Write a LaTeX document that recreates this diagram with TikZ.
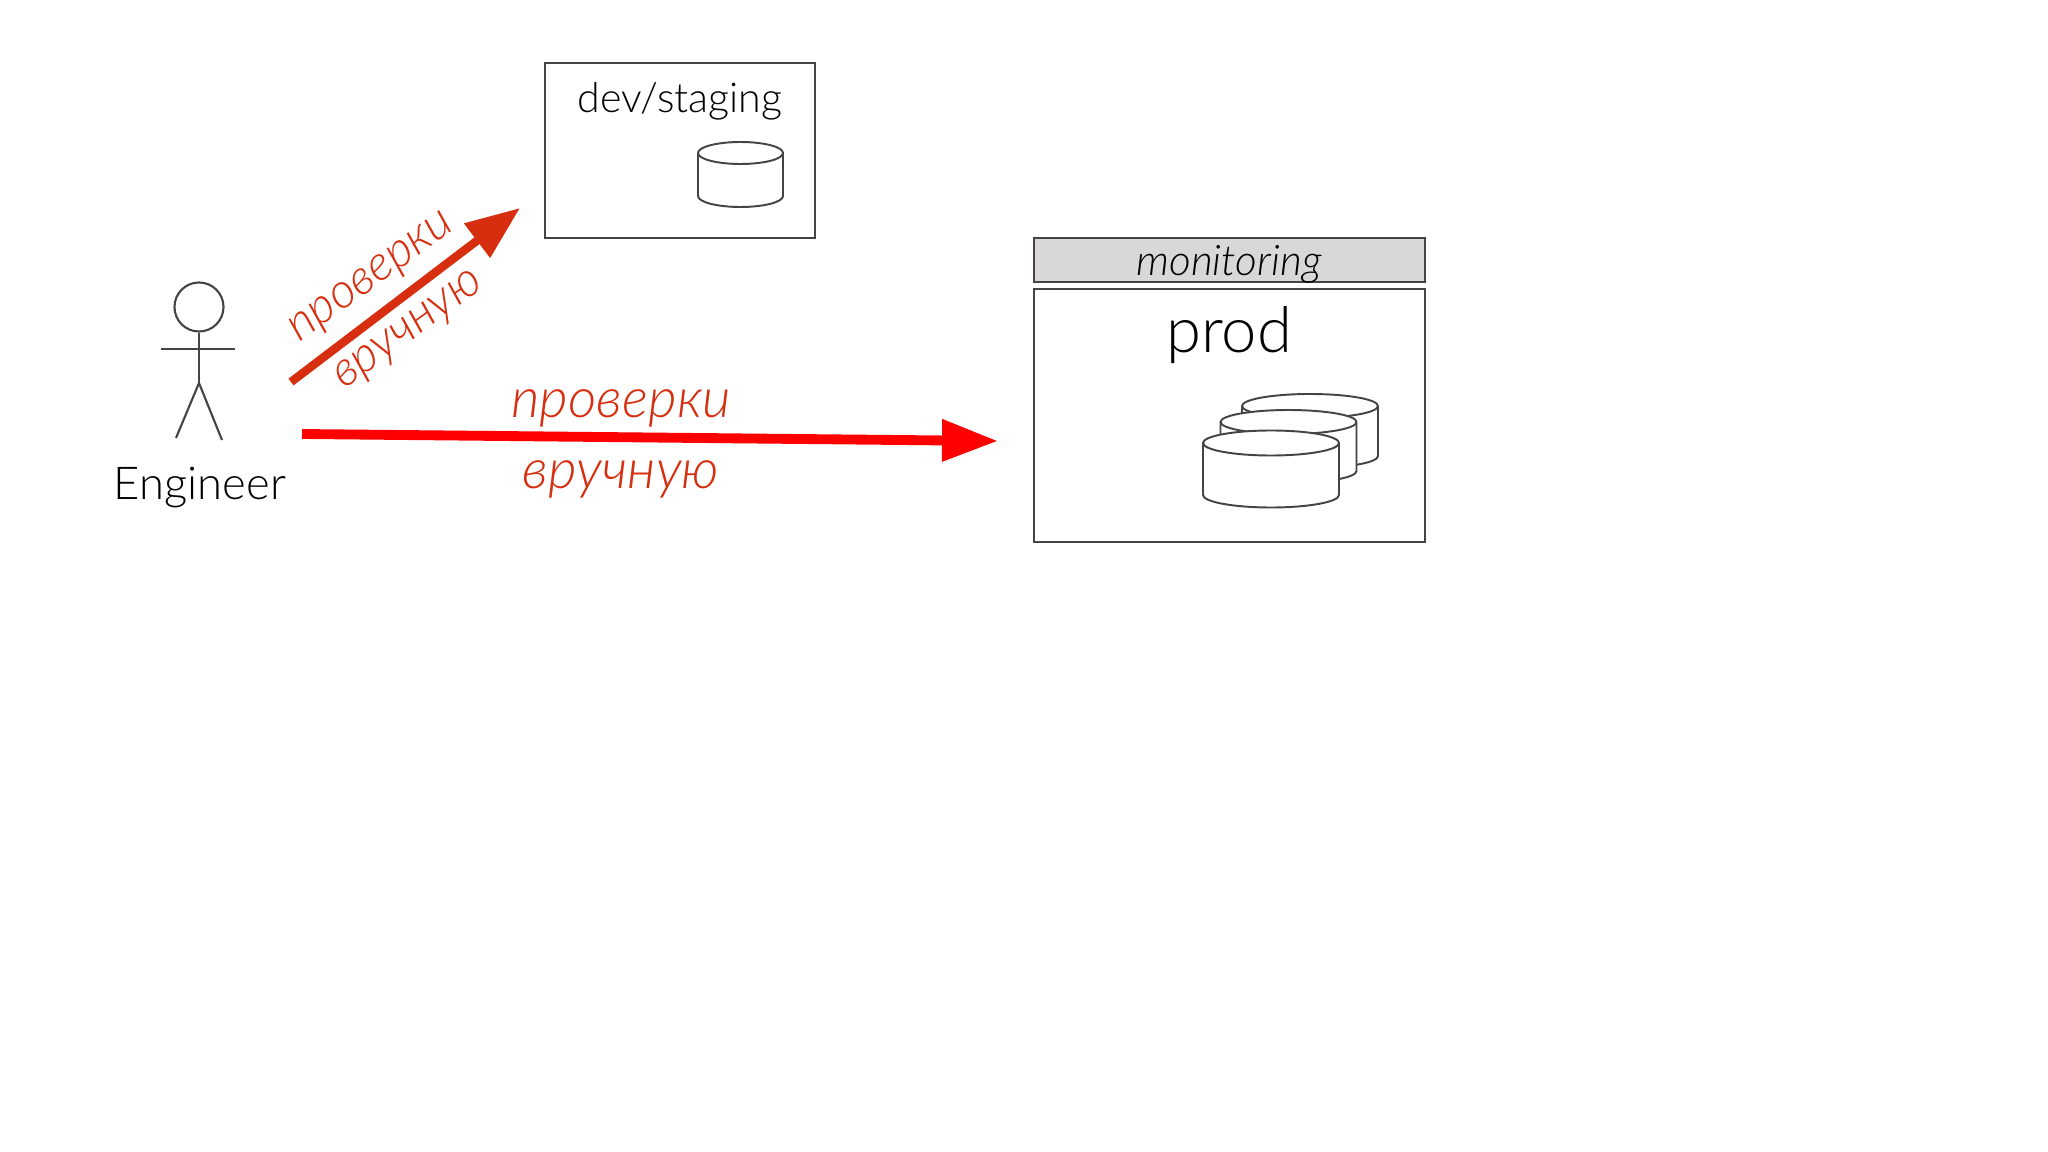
\documentclass[tikz,border=0pt]{standalone}
\usepackage{fontspec}
\setmainfont{Lato Light}
\usetikzlibrary{arrows.meta}
\definecolor{envline}{RGB}{68,68,68}
\definecolor{envgray}{RGB}{217,215,216}
\definecolor{checkred}{RGB}{214,46,14}
\definecolor{purered}{RGB}{255,0,0}
\tikzset{
  pics/db/.style n args={3}{code={
    \draw[envline,fill=white,line width=0.55pt] (-#1,0) -- (-#1,#2) arc[start angle=180,end angle=0,x radius=#1,y radius=#3]
      -- (#1,0) arc[start angle=0,end angle=-180,x radius=#1,y radius=#3] -- cycle;
    \draw[envline,line width=0.55pt] (-#1,0) arc[start angle=180,end angle=0,x radius=#1,y radius=#3];
  }}
}
\begin{document}
\begin{tikzpicture}[
  x=0.01cm,y=-0.01cm,
  envbox/.style={draw=envline,line width=0.6pt,inner sep=0pt,outer sep=0pt},
  limb/.style={envline,line width=0.6pt},
  lab/.style={anchor=base,inner sep=0pt,text=checkred,font=\fontsize{15.7}{18}\selectfont\itshape},
  lab2/.style={anchor=center,rotate=36,inner sep=0pt,text=checkred,font=\fontsize{13.9}{16}\selectfont\itshape},
  every node/.append style={inner sep=0pt}
]
  \useasboundingbox (0,0) rectangle (2048,1152);
  % Engineer
  \node[limb,draw,circle,minimum size=0.49cm] (head) at (199,307) {};
  \coordinate (hip) at (199,383);
  \coordinate (armL) at (161,349);
  \coordinate (armR) at (235,349);
  \coordinate (footL) at (176,438);
  \coordinate (footR) at (222,440);
  \draw[limb] (head) -- (hip);
  \draw[limb] (armL) -- (armR);
  \draw[limb] (footL) -- (hip) -- (footR);
  \node[anchor=base,font=\fontsize{12.9}{15}\selectfont] (eng) at (200,500) {Engineer};
  % dev/staging
  \node[envbox,minimum width=2.7cm,minimum height=1.75cm] (dev) at (680,150.5) {};
  \node[anchor=base,font=\fontsize{11.7}{14}\selectfont] (devlab) at (680,113) {dev/staging};
  \pic at (740.5,153) {db={42.5}{43}{11}};
  % prod
  \node[envbox,fill=envgray,minimum width=3.91cm,minimum height=0.44cm] (mon) at (1229.5,260) {};
  \node[anchor=base,font=\fontsize{12}{14}\selectfont\itshape] (monlab) at (1229,276) {monitoring};
  \node[envbox,minimum width=3.91cm,minimum height=2.53cm] (prod) at (1229.5,415.5) {};
  \node[anchor=base,font=\fontsize{18}{22}\selectfont] (prodlab) at (1229,353) {prod};
  \pic at (1310,406) {db={68}{50}{12}};
  \pic at (1288.5,422) {db={68}{49}{12}};
  \pic at (1271,443) {db={68}{52}{12.5}};
  % Arrows
  \coordinate (upS) at (291,382);
  \coordinate (upE) at (520,208);
  \coordinate (rightS) at (302,434);
  \coordinate (rightE) at (998,441);
  \draw[line width=2.4pt,checkred,-{Triangle[length=0.54cm,width=0.41cm,inset=0pt]}] (upS) -- (upE);
  \draw[line width=2.8pt,purered,-{Triangle[length=0.56cm,width=0.4cm,inset=0pt]}] (rightS) -- (rightE);
  % Labels
  \node[lab2] (up1) at (373,279) {проверки};
  \node[lab2] (up2) at (410,332) {вручную};
  \node[lab] (right1) at (621,418) {проверки};
  \node[lab] (right2) at (621,489) {вручную};
\end{tikzpicture}
\end{document}
